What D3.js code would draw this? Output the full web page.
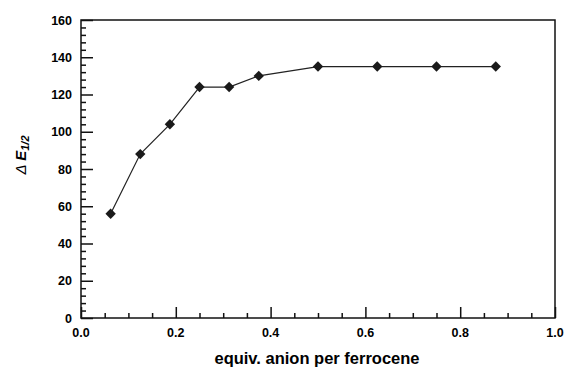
<!DOCTYPE html>
<html>
<head>
<meta charset="utf-8">
<script src="https://cdn.jsdelivr.net/npm/d3@7"></script>
<style>
  body { margin: 0; background: white; }
  svg { display: block; font-family: "Liberation Sans", Arial, sans-serif; }
</style>
</head>
<body>
<svg width="564" height="370"></svg>
<script>
// data
let anionEquiv = [0.0625, 0.125, 0.1875, 0.25, 0.3125, 0.375, 0.5, 0.625, 0.75, 0.875];
let deltaE = [56, 88, 104, 124, 124, 130, 135, 135, 135, 135];
let xTicks = [0, 0.2, 0.4, 0.6, 0.8, 1.0];
let yTicks = [0, 20, 40, 60, 80, 100, 120, 140, 160];

const plotLeft = 81, plotRight = 555, plotTop = 20, plotBottom = 318;
const svg = d3.select("svg");

let xScale = d3.scaleLinear().domain([0, 1]).range([plotLeft, plotRight]);
let yScale = d3.scaleLinear().domain([0, 160]).range([plotBottom, plotTop]);

// frame
svg.append("rect")
    .attr("x", plotLeft).attr("y", plotTop)
    .attr("width", plotRight - plotLeft).attr("height", plotBottom - plotTop)
    .attr("fill", "none").attr("stroke", "#111").attr("stroke-width", 1.5);

// y axis ticks pointing inward
const yAxis = d3.axisRight(yScale)
    .tickValues(d3.range(0, 161, 4))
    .tickSize(5)
    .tickFormat("");
svg.append("g").attr("transform", `translate(${plotLeft},0)`).call(yAxis)
    .call(g => g.select(".domain").remove())
    .selectAll("line")
    .attr("x2", d => d % 20 === 0 ? 12 : 5)
    .attr("stroke", "#111").attr("stroke-width", 1.5);

const xAxis = d3.axisTop(xScale)
    .tickValues(d3.range(0, 21).map(i => i * 0.05))
    .tickSize(5)
    .tickFormat("");
svg.append("g").attr("transform", `translate(0,${plotBottom})`).call(xAxis)
    .call(g => g.select(".domain").remove())
    .selectAll("line")
    .attr("y2", (d, i) => i % 4 === 0 ? -11 : -5)
    .attr("stroke", "#111").attr("stroke-width", 1.5);

// tick labels
svg.append("g").selectAll("text")
    .data(yTicks).enter().append("text")
    .attr("x", plotLeft - 9)
    .attr("y", d => yScale(d) + 4.5)
    .attr("text-anchor", "end")
    .attr("font-size", 12.5).attr("font-weight", "bold")
    .text(d => d);

svg.append("g").selectAll("text")
    .data(xTicks).enter().append("text")
    .attr("x", d => xScale(d))
    .attr("y", plotBottom + 19)
    .attr("text-anchor", "middle")
    .attr("font-size", 12.5).attr("font-weight", "bold")
    .text(d => d.toFixed(1));

// axis titles
svg.append("text")
    .attr("x", 317).attr("y", 364)
    .attr("text-anchor", "middle")
    .attr("font-size", 16.5).attr("font-weight", "bold")
    .text("equiv. anion per ferrocene");

let yTitle = svg.append("text")
    .attr("transform", "translate(26,155) rotate(-90)")
    .attr("text-anchor", "middle")
    .attr("font-size", 15).attr("font-weight", "bold").attr("font-style", "italic");
yTitle.append("tspan").attr("font-weight", "normal").text("Δ ");
yTitle.append("tspan").text("E");
yTitle.append("tspan").attr("font-size", 11).attr("dy", 3).text("1/2");

// line + markers
const pts = anionEquiv.map((x, i) => [x, deltaE[i]]);
svg.append("path")
    .datum(pts)
    .attr("d", d3.line().x(d => xScale(d[0])).y(d => yScale(d[1])))
    .attr("fill", "none").attr("stroke", "#222").attr("stroke-width", 1.2);

svg.append("g").selectAll("path")
    .data(pts).enter().append("path")
    .attr("transform", d => `translate(${xScale(d[0])},${yScale(d[1])})`)
    .attr("d", "M0,-5.2L5.2,0L0,5.2L-5.2,0Z")
    .attr("fill", "#1a1a1a");
</script>
</body>
</html>
